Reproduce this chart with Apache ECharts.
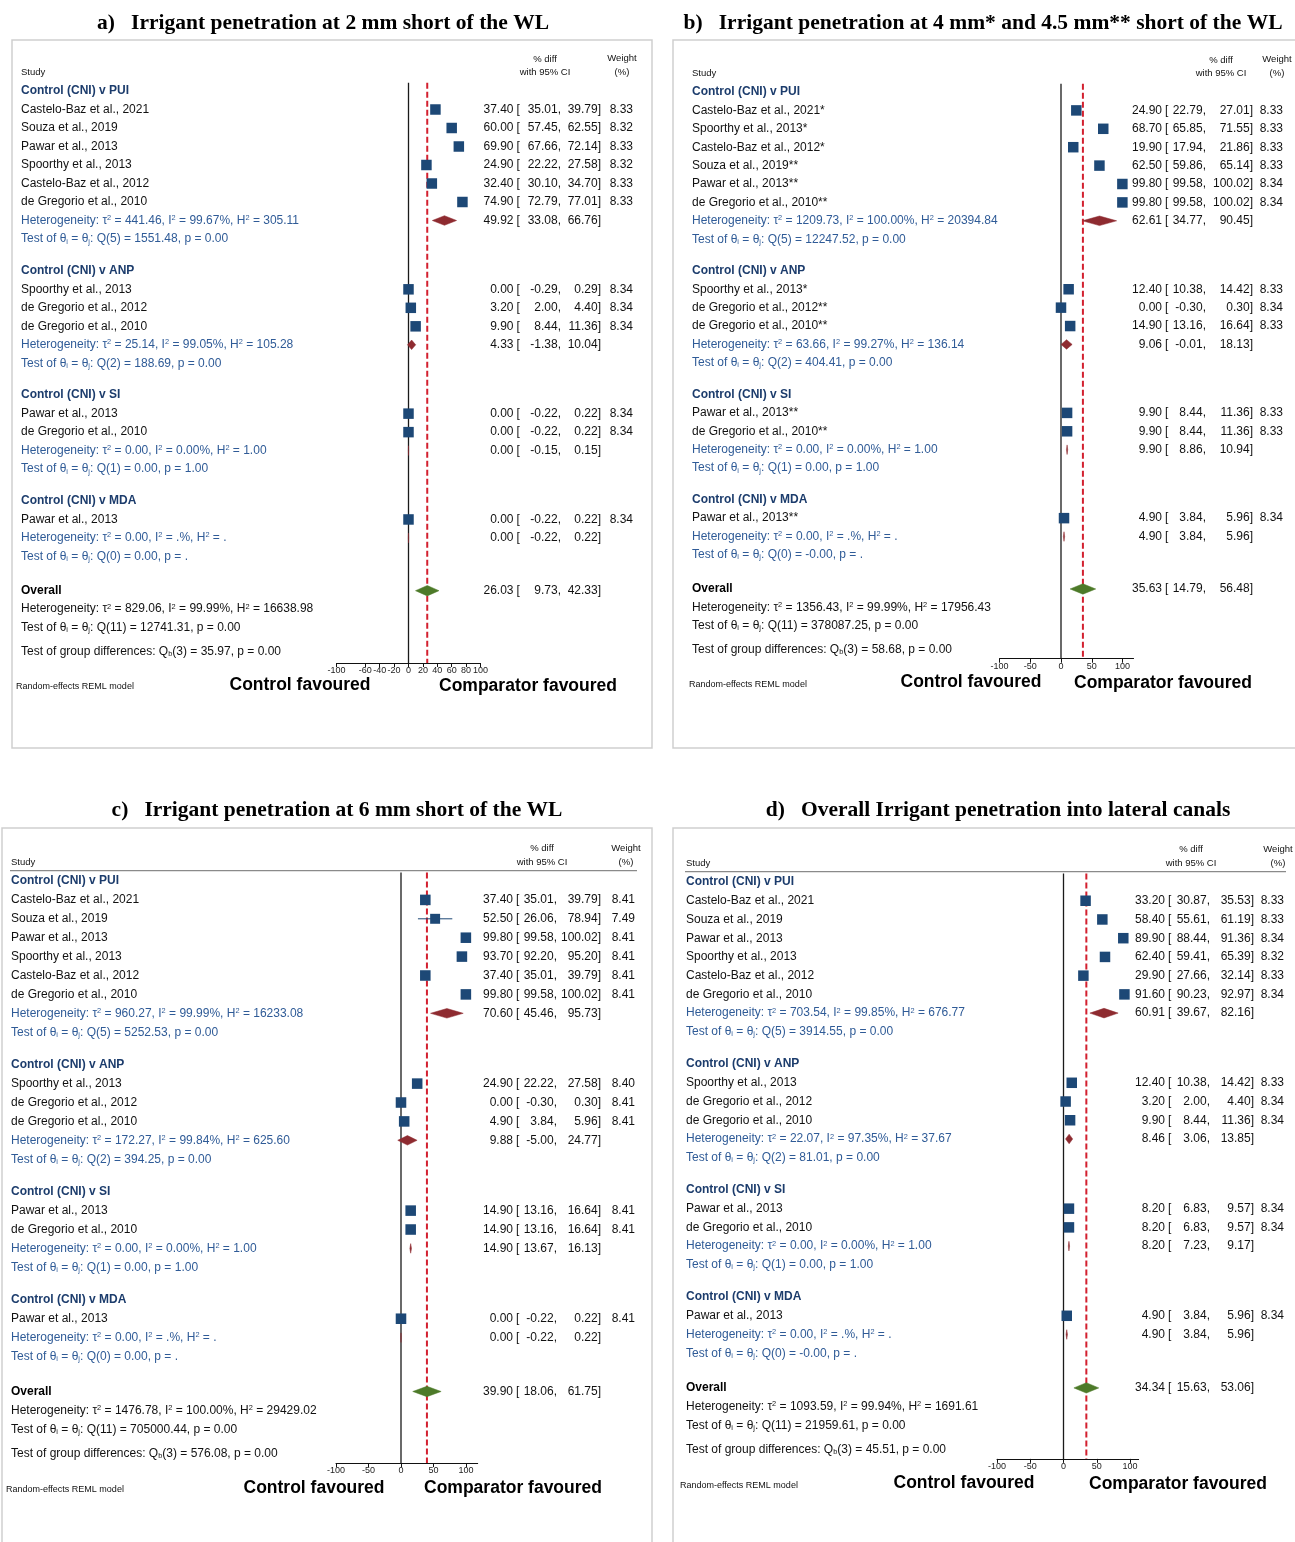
<!DOCTYPE html>
<html>
<head>
<meta charset="utf-8">
<script src="https://cdn.jsdelivr.net/npm/echarts@6/dist/echarts.min.js"></script>
<style>
html,body{margin:0;padding:0;background:#fff}
#chart{width:1295px;height:1542px}
</style>
</head>
<body>
<div id="chart"></div>
<script>
// ---------- data ----------
const panelTitles = [
  'a)   Irrigant penetration at 2 mm short of the WL',
  'b)   Irrigant penetration at 4 mm* and 4.5 mm** short of the WL',
  'c)   Irrigant penetration at 6 mm short of the WL',
  'd)   Overall Irrigant penetration into lateral canals'
];
const groupNames = ['Control (CNI) v PUI', 'Control (CNI) v ANP', 'Control (CNI) v SI', 'Control (CNI) v MDA'];
// subgroup index of each study row (same order in every panel)
const studyGroup = [0, 0, 0, 0, 0, 0, 1, 1, 1, 2, 2, 3];
const ticksA = [-100, -60, -40, -20, 0, 20, 40, 60, 80, 100];
const ticksBCD = [-100, -50, 0, 50, 100];

// a) 2 mm short of the WL
const aStudy = ['Castelo-Baz et al., 2021', 'Souza et al., 2019', 'Pawar et al., 2013', 'Spoorthy et al., 2013', 'Castelo-Baz et al., 2012', 'de Gregorio et al., 2010',
  'Spoorthy et al., 2013', 'de Gregorio et al., 2012', 'de Gregorio et al., 2010', 'Pawar et al., 2013', 'de Gregorio et al., 2010', 'Pawar et al., 2013'];
const aEst = [37.40, 60.00, 69.90, 24.90, 32.40, 74.90, 0.00, 3.20, 9.90, 0.00, 0.00, 0.00];
const aLo = [35.01, 57.45, 67.66, 22.22, 30.10, 72.79, -0.29, 2.00, 8.44, -0.22, -0.22, -0.22];
const aHi = [39.79, 62.55, 72.14, 27.58, 34.70, 77.01, 0.29, 4.40, 11.36, 0.22, 0.22, 0.22];
const aWeight = [8.33, 8.32, 8.33, 8.32, 8.33, 8.33, 8.34, 8.34, 8.34, 8.34, 8.34, 8.34];
const aPoolEst = [49.92, 4.33, 0.00, 0.00];
const aPoolLo = [33.08, -1.38, -0.15, -0.22];
const aPoolHi = [66.76, 10.04, 0.15, 0.22];
const aOverall = [26.03, 9.73, 42.33];
const aHet = [['441.46', '99.67%', '305.11'], ['25.14', '99.05%', '105.28'], ['0.00', '0.00%', '1.00'], ['0.00', '.%', '.'], ['829.06', '99.99%', '16638.98']];
const aTest = [[5, '1551.48', '0.00'], [2, '188.69', '0.00'], [1, '0.00', '1.00'], [0, '0.00', '.'], [11, '12741.31', '0.00']];
const aGroupTest = [3, '35.97', '0.00'];

// b) 4 mm* and 4.5 mm** short of the WL
const bStudy = ['Castelo-Baz et al., 2021*', 'Spoorthy et al., 2013*', 'Castelo-Baz et al., 2012*', 'Souza et al., 2019**', 'Pawar et al., 2013**', 'de Gregorio et al., 2010**',
  'Spoorthy et al., 2013*', 'de Gregorio et al., 2012**', 'de Gregorio et al., 2010**', 'Pawar et al., 2013**', 'de Gregorio et al., 2010**', 'Pawar et al., 2013**'];
const bEst = [24.90, 68.70, 19.90, 62.50, 99.80, 99.80, 12.40, 0.00, 14.90, 9.90, 9.90, 4.90];
const bLo = [22.79, 65.85, 17.94, 59.86, 99.58, 99.58, 10.38, -0.30, 13.16, 8.44, 8.44, 3.84];
const bHi = [27.01, 71.55, 21.86, 65.14, 100.02, 100.02, 14.42, 0.30, 16.64, 11.36, 11.36, 5.96];
const bWeight = [8.33, 8.33, 8.33, 8.33, 8.34, 8.34, 8.33, 8.34, 8.33, 8.33, 8.33, 8.34];
const bPoolEst = [62.61, 9.06, 9.90, 4.90];
const bPoolLo = [34.77, -0.01, 8.86, 3.84];
const bPoolHi = [90.45, 18.13, 10.94, 5.96];
const bOverall = [35.63, 14.79, 56.48];
const bHet = [['1209.73', '100.00%', '20394.84'], ['63.66', '99.27%', '136.14'], ['0.00', '0.00%', '1.00'], ['0.00', '.%', '.'], ['1356.43', '99.99%', '17956.43']];
const bTest = [[5, '12247.52', '0.00'], [2, '404.41', '0.00'], [1, '0.00', '1.00'], [0, '-0.00', '.'], [11, '378087.25', '0.00']];
const bGroupTest = [3, '58.68', '0.00'];

// c) 6 mm short of the WL
const cStudy = ['Castelo-Baz et al., 2021', 'Souza et al., 2019', 'Pawar et al., 2013', 'Spoorthy et al., 2013', 'Castelo-Baz et al., 2012', 'de Gregorio et al., 2010',
  'Spoorthy et al., 2013', 'de Gregorio et al., 2012', 'de Gregorio et al., 2010', 'Pawar et al., 2013', 'de Gregorio et al., 2010', 'Pawar et al., 2013'];
const cEst = [37.40, 52.50, 99.80, 93.70, 37.40, 99.80, 24.90, 0.00, 4.90, 14.90, 14.90, 0.00];
const cLo = [35.01, 26.06, 99.58, 92.20, 35.01, 99.58, 22.22, -0.30, 3.84, 13.16, 13.16, -0.22];
const cHi = [39.79, 78.94, 100.02, 95.20, 39.79, 100.02, 27.58, 0.30, 5.96, 16.64, 16.64, 0.22];
const cWeight = [8.41, 7.49, 8.41, 8.41, 8.41, 8.41, 8.40, 8.41, 8.41, 8.41, 8.41, 8.41];
const cPoolEst = [70.60, 9.88, 14.90, 0.00];
const cPoolLo = [45.46, -5.00, 13.67, -0.22];
const cPoolHi = [95.73, 24.77, 16.13, 0.22];
const cOverall = [39.90, 18.06, 61.75];
const cHet = [['960.27', '99.99%', '16233.08'], ['172.27', '99.84%', '625.60'], ['0.00', '0.00%', '1.00'], ['0.00', '.%', '.'], ['1476.78', '100.00%', '29429.02']];
const cTest = [[5, '5252.53', '0.00'], [2, '394.25', '0.00'], [1, '0.00', '1.00'], [0, '0.00', '.'], [11, '705000.44', '0.00']];
const cGroupTest = [3, '576.08', '0.00'];

// d) overall penetration into lateral canals
const dStudy = ['Castelo-Baz et al., 2021', 'Souza et al., 2019', 'Pawar et al., 2013', 'Spoorthy et al., 2013', 'Castelo-Baz et al., 2012', 'de Gregorio et al., 2010',
  'Spoorthy et al., 2013', 'de Gregorio et al., 2012', 'de Gregorio et al., 2010', 'Pawar et al., 2013', 'de Gregorio et al., 2010', 'Pawar et al., 2013'];
const dEst = [33.20, 58.40, 89.90, 62.40, 29.90, 91.60, 12.40, 3.20, 9.90, 8.20, 8.20, 4.90];
const dLo = [30.87, 55.61, 88.44, 59.41, 27.66, 90.23, 10.38, 2.00, 8.44, 6.83, 6.83, 3.84];
const dHi = [35.53, 61.19, 91.36, 65.39, 32.14, 92.97, 14.42, 4.40, 11.36, 9.57, 9.57, 5.96];
const dWeight = [8.33, 8.33, 8.34, 8.32, 8.33, 8.34, 8.33, 8.34, 8.34, 8.34, 8.34, 8.34];
const dPoolEst = [60.91, 8.46, 8.20, 4.90];
const dPoolLo = [39.67, 3.06, 7.23, 3.84];
const dPoolHi = [82.16, 13.85, 9.17, 5.96];
const dOverall = [34.34, 15.63, 53.06];
const dHet = [['703.54', '99.85%', '676.77'], ['22.07', '97.35%', '37.67'], ['0.00', '0.00%', '1.00'], ['0.00', '.%', '.'], ['1093.59', '99.94%', '1691.61']];
const dTest = [[5, '3914.55', '0.00'], [2, '81.01', '0.00'], [1, '0.00', '1.00'], [0, '-0.00', '.'], [11, '21959.61', '0.00']];
const dGroupTest = [3, '45.51', '0.00'];

// ---------- styling ----------
const FONT = '"Liberation Sans", Arial, sans-serif';
const SERIF = '"Liberation Serif", "Times New Roman", serif';
const NAVY = '#1d4876';
const HEAD_BLUE = '#1c3c6c';
const STAT_BLUE = '#2f5b97';
const SUB_RED = '#8e2b30';
const ALL_GREEN = '#4d7a29';
const REF_RED = '#d3202f';
const SQUARE = 10.5;
const RTOP = -0.45;

const panels = [
  { study: aStudy, est: aEst, lo: aLo, hi: aHi, weight: aWeight, poolEst: aPoolEst, poolLo: aPoolLo, poolHi: aPoolHi, overall: aOverall, het: aHet, test: aTest, groupTest: aGroupTest, ticks: ticksA, step: 20, title: panelTitles[0] },
  { study: bStudy, est: bEst, lo: bLo, hi: bHi, weight: bWeight, poolEst: bPoolEst, poolLo: bPoolLo, poolHi: bPoolHi, overall: bOverall, het: bHet, test: bTest, groupTest: bGroupTest, ticks: ticksBCD, step: 50, title: panelTitles[1] },
  { study: cStudy, est: cEst, lo: cLo, hi: cHi, weight: cWeight, poolEst: cPoolEst, poolLo: cPoolLo, poolHi: cPoolHi, overall: cOverall, het: cHet, test: cTest, groupTest: cGroupTest, ticks: ticksBCD, step: 50, title: panelTitles[2] },
  { study: dStudy, est: dEst, lo: dLo, hi: dHi, weight: dWeight, poolEst: dPoolEst, poolLo: dPoolLo, poolHi: dPoolHi, overall: dOverall, het: dHet, test: dTest, groupTest: dGroupTest, ticks: ticksBCD, step: 50, title: panelTitles[3] }
];

// page geometry of each panel (pixels)
const layouts = [
  { box: [12, 40, 640, 708], row0: 91, rowH: 18.5, rAxis: 30.92, x0: 408.5, ppu: 0.72, xMax: 100, headRule: false,
    name: 21, bracket: 516.5, lo: 561, hi: 601, w: 633, diff: 545, wHead: 622, ctrl: 300, comp: 528, re: 16, tx: 323, ty: 23 },
  { box: [673, 40, 640, 708], row0: 92, rowH: 18.4, rAxis: 30.8, x0: 1061, ppu: 0.615, xMax: 118, headRule: false,
    name: 692, bracket: 1165, lo: 1206, hi: 1253, w: 1283, diff: 1221, wHead: 1277, ctrl: 971, comp: 1163, re: 689, tx: 983, ty: 23 },
  { box: [2, 828, 650, 720], row0: 881, rowH: 18.9, rAxis: 30.8, x0: 401, ppu: 0.65, xMax: 118, headRule: true,
    name: 11, bracket: 516, lo: 557, hi: 601, w: 635, diff: 542, wHead: 626, ctrl: 314, comp: 513, re: 6, tx: 337, ty: 810 },
  { box: [673, 828, 640, 720], row0: 882, rowH: 18.73, rAxis: 30.8, x0: 1063.5, ppu: 0.665, xMax: 113, headRule: true,
    name: 686, bracket: 1168, lo: 1210, hi: 1254, w: 1284, diff: 1191, wHead: 1278, ctrl: 964, comp: 1178, re: 680, tx: 998, ty: 810 }
];

// ---------- helpers ----------
const fmt = v => v.toFixed(2);
const hetText = h => 'Heterogeneity: τ{sup|2} = ' + h[0] + ', I{sup|2} = ' + h[1] + ', H{sup|2} = ' + h[2];
const testText = t => 'Test of θ{sub|i} = θ{sub|j}: Q(' + t[0] + ') = ' + t[1] + ', p = ' + t[2];
const groupTestText = t => 'Test of group differences: Q{sub|b}(' + t[0] + ') = ' + t[1] + ', p = ' + t[2];

// row index (in line units) of every line of the table
function rowPositions(group) {
  const studyRow = [], headRow = [], hetRow = [], testRow = [];
  let r = 0;
  for (let g = 0; g < groupNames.length; g++) {
    headRow.push(r);
    group.forEach((gg, i) => { if (gg === g) { r += 1; studyRow[i] = r; } });
    r += 1; hetRow.push(r);
    r += 1; testRow.push(r);
    if (g < groupNames.length - 1) r += 1.72;
  }
  const overallRow = r + 1.85;
  hetRow.push(overallRow + 1);
  testRow.push(overallRow + 2);
  return { studyRow, headRow, hetRow, testRow, overallRow, groupDiffRow: overallRow + 3.3 };
}

function textRenderer(specs) {
  return function (params, api) {
    const s = specs[params.dataIndex];
    const p = api.coord([s.x, s.r]);
    if (s.kind === 'hline') {
      const q = api.coord([s.x2, s.r]);
      return { type: 'line', silent: true, shape: { x1: p[0], y1: p[1], x2: q[0], y2: q[1] }, style: { stroke: s.color, lineWidth: s.lw } };
    }
    const small = Math.round(s.size * 0.62 * 10) / 10;
    const tok = va => ({ fontSize: small, fontFamily: FONT, fontWeight: 'normal', fill: s.color, verticalAlign: va });
    return {
      type: 'text', x: p[0], y: p[1], silent: true,
      style: {
        text: s.text, fill: s.color, fontSize: s.size, fontFamily: s.family || FONT,
        fontWeight: s.bold ? 'bold' : 'normal',
        align: s.align, textAlign: s.align, verticalAlign: 'middle', textVerticalAlign: 'middle',
        rich: { sup: tok('top'), sub: tok('bottom') }
      }
    };
  };
}

function renderStudy(params, api) {
  const est = api.value(0), lo = api.value(1), hi = api.value(2), r = api.value(3), w = api.value(4);
  const c = api.coord([est, r]), a = api.coord([lo, r]), b = api.coord([hi, r]);
  const s = SQUARE * Math.sqrt(w / 8.34);
  return {
    type: 'group', children: [
      { type: 'line', shape: { x1: a[0], y1: a[1], x2: b[0], y2: b[1] }, style: { stroke: NAVY, lineWidth: 1 } },
      { type: 'rect', shape: { x: c[0] - s / 2, y: c[1] - s / 2, width: s, height: s }, style: { fill: NAVY } }
    ]
  };
}

function renderDiamond(params, api) {
  const est = api.value(0), lo = api.value(1), hi = api.value(2), r = api.value(3), overall = api.value(4);
  const c = api.coord([est, r]), a = api.coord([lo, r]), b = api.coord([hi, r]);
  const h = overall ? 5.2 : 4.8;
  return {
    type: 'polygon',
    shape: { points: [[a[0], c[1]], [c[0], c[1] - h], [b[0], c[1]], [c[0], c[1] + h]] },
    style: { fill: overall ? ALL_GREEN : SUB_RED, stroke: overall ? ALL_GREEN : SUB_RED, lineWidth: 0.5 }
  };
}

function renderRef(params, api) {
  const x = api.coord([api.value(0), 0])[0];
  const cs = params.coordSys;
  const dashed = api.value(1) === 1;
  return {
    type: 'line',
    shape: { x1: x, y1: cs.y, x2: x, y2: cs.y + cs.height },
    style: dashed ? { stroke: REF_RED, lineWidth: 2, lineDash: [6, 3] } : { stroke: '#1a1a1a', lineWidth: 1.3 }
  };
}

// ---------- option ----------
const grid = [], xAxis = [], yAxis = [], series = [], graphic = [];

panels.forEach((P, pi) => {
  const L = layouts[pi];
  const [bx, by, bw, bh] = L.box;
  const rows = rowPositions(studyGroup);
  const tg = pi * 2, pg = pi * 2 + 1;

  // table frame and text area
  grid.push({ left: bx, top: by, width: bw, height: bh, show: true, borderColor: '#cfcfcf', borderWidth: 1.5, backgroundColor: '#fff', containLabel: false, outerBoundsMode: 'none' });
  xAxis.push({ gridIndex: tg, type: 'value', min: bx, max: bx + bw, show: false });
  yAxis.push({ gridIndex: tg, type: 'value', inverse: true, min: (by - L.row0) / L.rowH, max: (by + bh - L.row0) / L.rowH, show: false });

  // plotting area
  const plotTop = L.row0 + RTOP * L.rowH;
  grid.push({ left: L.x0 - 100 * L.ppu, top: plotTop, width: (L.xMax + 100) * L.ppu, height: (L.rAxis - RTOP) * L.rowH, show: false, containLabel: false, outerBoundsMode: 'none' });
  const tickSet = P.ticks;
  xAxis.push({
    gridIndex: pg, type: 'value', min: -100, max: L.xMax, interval: P.step,
    axisLine: { show: true, onZero: false, lineStyle: { color: '#111', width: 1 } },
    axisTick: { show: true, length: 4, lineStyle: { color: '#111', width: 1 }, customValues: tickSet },
    axisLabel: { show: true, margin: 3, fontSize: 9, fontFamily: FONT, color: '#222', customValues: tickSet,
      formatter: v => (tickSet.indexOf(v) >= 0 ? String(v) : '') },
    splitLine: { show: false }
  });
  yAxis.push({ gridIndex: pg, type: 'value', inverse: true, min: RTOP, max: L.rAxis, show: false });

  // table text
  const specs = [];
  const T = (x, r, text, o) => specs.push(Object.assign({ x, r, text, align: 'left', size: 12, bold: false, color: '#111' }, o || {}));
  const values = (r, est, lo, hi, w) => {
    T(L.bracket - 3, r, fmt(est), { align: 'right' });
    T(L.bracket, r, '[');
    T(L.lo, r, fmt(lo) + ',', { align: 'right' });
    T(L.hi, r, fmt(hi) + ']', { align: 'right' });
    if (w != null) T(L.w, r, fmt(w), { align: 'right' });
  };

  T(L.name, -1.0, 'Study', { size: 9.5 });
  T(L.diff, -1.72, '% diff', { size: 9.5, align: 'center' });
  T(L.diff, -1.0, 'with 95% CI', { size: 9.5, align: 'center' });
  T(L.wHead, -1.75, 'Weight', { size: 9.5, align: 'center' });
  T(L.wHead, -1.0, '(%)', { size: 9.5, align: 'center' });
  if (L.headRule) specs.push({ kind: 'hline', x: L.name - 1, x2: L.w + 2, r: -0.55, color: '#8a8a8a', lw: 1.2 });

  groupNames.forEach((g, gi) => {
    T(L.name, rows.headRow[gi], g, { bold: true, color: HEAD_BLUE });
    T(L.name, rows.hetRow[gi], hetText(P.het[gi]), { color: STAT_BLUE });
    values(rows.hetRow[gi], P.poolEst[gi], P.poolLo[gi], P.poolHi[gi], null);
    T(L.name, rows.testRow[gi], testText(P.test[gi]), { color: STAT_BLUE });
  });
  P.study.forEach((s, i) => {
    T(L.name, rows.studyRow[i], s);
    values(rows.studyRow[i], P.est[i], P.lo[i], P.hi[i], P.weight[i]);
  });
  T(L.name, rows.overallRow, 'Overall', { bold: true, color: '#000' });
  values(rows.overallRow, P.overall[0], P.overall[1], P.overall[2], null);
  T(L.name, rows.hetRow[4], hetText(P.het[4]), { color: '#111' });
  T(L.name, rows.testRow[4], testText(P.test[4]), { color: '#111' });
  T(L.name, rows.groupDiffRow, groupTestText(P.groupTest), { color: '#111' });

  T(L.ctrl, 32.1, 'Control favoured', { size: 17.5, bold: true, align: 'center', color: '#000' });
  T(L.comp, 32.15, 'Comparator favoured', { size: 17.5, bold: true, align: 'center', color: '#000' });
  T(L.re, 32.2, 'Random-effects REML model', { size: 9, color: '#111' });

  series.push({
    type: 'custom', coordinateSystem: 'cartesian2d', xAxisIndex: tg, yAxisIndex: tg, silent: true, z: 5,
    data: specs.map(s => [s.x, s.r]), encode: { x: 0, y: 1 }, renderItem: textRenderer(specs)
  });

  // reference lines: no effect and overall estimate
  series.push({
    type: 'custom', coordinateSystem: 'cartesian2d', xAxisIndex: pg, yAxisIndex: pg, silent: true, z: 2,
    data: [[0, 0], [P.overall[0], 1]], encode: { x: 0 }, renderItem: renderRef
  });
  // study estimates with CI
  series.push({
    type: 'custom', coordinateSystem: 'cartesian2d', xAxisIndex: pg, yAxisIndex: pg, silent: true, z: 3,
    data: P.est.map((e, i) => [e, P.lo[i], P.hi[i], rows.studyRow[i], P.weight[i]]),
    encode: { x: [0, 1, 2], y: 3 }, renderItem: renderStudy
  });
  // pooled subgroup and overall diamonds
  const pooled = P.poolEst.map((e, gi) => [e, P.poolLo[gi], P.poolHi[gi], rows.hetRow[gi], 0]);
  pooled.push([P.overall[0], P.overall[1], P.overall[2], rows.overallRow, 1]);
  series.push({
    type: 'custom', coordinateSystem: 'cartesian2d', xAxisIndex: pg, yAxisIndex: pg, silent: true, z: 3,
    data: pooled, encode: { x: [0, 1, 2], y: 3 }, renderItem: renderDiamond
  });

  graphic.push({
    type: 'text', x: L.tx, y: L.ty, silent: true,
    style: { text: P.title, fill: '#000', fontSize: 21.5, fontWeight: 'bold', fontFamily: SERIF,
      align: 'center', textAlign: 'center', verticalAlign: 'middle', textVerticalAlign: 'middle' }
  });
});

const chart = echarts.init(document.getElementById('chart'), null, { renderer: 'canvas' });
chart.setOption({
  backgroundColor: '#fff',
  animation: false,
  tooltip: { show: false },
  grid, xAxis, yAxis, series, graphic
});
</script>
</body>
</html>
